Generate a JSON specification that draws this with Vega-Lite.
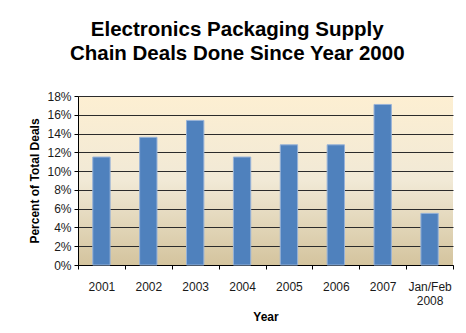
{
  "$schema": "https://vega.github.io/schema/vega-lite/v6.json",
  "autosize": {"type": "fit", "contains": "padding"},
  "width": 466,
  "height": 333,
  "padding": {"left": 28, "right": 12, "top": 19, "bottom": 11},
  "background": "white",
  "title": {
    "text": ["Electronics Packaging Supply", "Chain Deals Done Since Year 2000"],
    "font": "Liberation Sans",
    "fontSize": 20.5,
    "fontWeight": "bold",
    "color": "#000000",
    "anchor": "middle",
    "frame": "bounds",
    "lineHeight": 24,
    "offset": 26,
    "dx": -4
  },
  "data": {
    "values": [
      {"year": "2001", "pct": 0.115},
      {"year": "2002", "pct": 0.136},
      {"year": "2003", "pct": 0.154},
      {"year": "2004", "pct": 0.115},
      {"year": "2005", "pct": 0.128},
      {"year": "2006", "pct": 0.128},
      {"year": "2007", "pct": 0.171},
      {"year": "Jan/Feb 2008", "pct": 0.055}
    ]
  },
  "mark": {"type": "bar", "color": "#4f81bd", "stroke": "#98b3d8", "strokeWidth": 1, "width": {"band": 0.37}},
  "encoding": {
    "x": {
      "field": "year",
      "type": "nominal",
      "sort": null,
      "scale": {"paddingInner": 0, "paddingOuter": 0},
      "axis": {
        "title": "Year",
        "labelAngle": 0,
        "labelExpr": "datum.value == 'Jan/Feb 2008' ? ['Jan/Feb', '2008'] : datum.value",
        "tickBand": "extent",
        "tickSize": 4,
        "tickColor": "#000000",
        "domainColor": "#000000",
        "labelPadding": 12,
        "labelLineHeight": 14,
        "titlePadding": 5
      }
    },
    "y": {
      "field": "pct",
      "type": "quantitative",
      "scale": {"domain": [0, 0.18], "nice": false},
      "axis": {
        "title": "Percent of Total Deals",
        "format": ".0%",
        "values": [0, 0.02, 0.04, 0.06, 0.08, 0.1, 0.12, 0.14, 0.16, 0.18],
        "grid": true,
        "gridColor": "#2b2b2b",
        "gridOpacity": 1,
        "gridWidth": 1,
        "tickSize": 4,
        "tickColor": "#000000",
        "domainColor": "#000000",
        "labelPadding": 3,
        "titlePadding": 5
      }
    }
  },
  "config": {
    "view": {
      "stroke": null,
      "fill": {
        "gradient": "linear",
        "x1": 0, "y1": 0, "x2": 0, "y2": 1,
        "stops": [
          {"offset": 0, "color": "#fdefd2"},
          {"offset": 0.5, "color": "#f1e9d6"},
          {"offset": 1, "color": "#d4c49e"}
        ]
      }
    },
    "axis": {
      "labelFont": "Liberation Sans",
      "labelFontSize": 12,
      "labelColor": "#1a1a1a",
      "titleFont": "Liberation Sans",
      "titleFontSize": 12,
      "titleFontWeight": "bold",
      "titleColor": "#000000",
      "domainWidth": 1,
      "tickWidth": 1
    }
  }
}
